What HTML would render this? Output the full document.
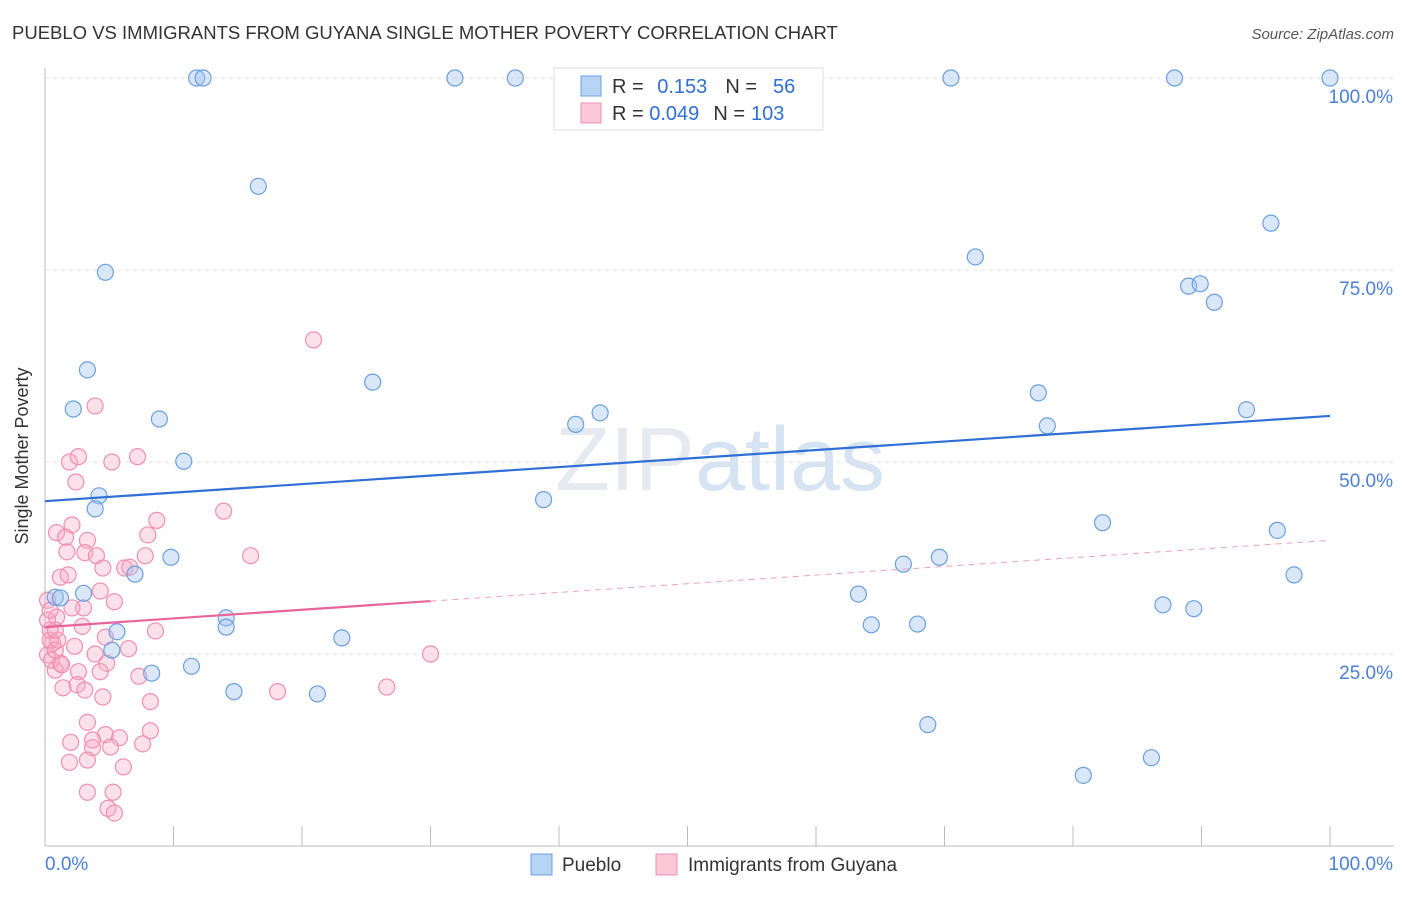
<!DOCTYPE html>
<html><head><meta charset="utf-8"><style>
body{margin:0;background:#fff;font-family:"Liberation Sans",sans-serif}
svg text{font-family:"Liberation Sans",sans-serif}
</style></head><body>
<svg id="c" width="1406" height="892">
<text x="12" y="39" font-size="18.5" fill="#333">PUEBLO VS IMMIGRANTS FROM GUYANA SINGLE MOTHER POVERTY CORRELATION CHART</text>
<text x="1394" y="39" font-size="15" fill="#555" text-anchor="end" font-style="italic">Source: ZipAtlas.com</text>
<text x="28" y="456" font-size="18" fill="#333" text-anchor="middle" transform="rotate(-90 28 456)">Single Mother Poverty</text>
<text x="720" y="490" font-size="90" fill="#e6eaf0" text-anchor="middle" font-family="Liberation Serif">ZIP<tspan fill="#d6e3f3" font-family="Liberation Sans">atlas</tspan></text>
<g id="grid"></g><g id="pts"></g><g id="lines"></g>
<g>
<rect x="554" y="68" width="269" height="62" fill="#fff" stroke="#ddd"/>
<rect x="581" y="76" width="20" height="20" fill="#b8d4f5" stroke="#6a9fe0"/>
<rect x="581" y="103" width="20" height="20" fill="#fbc8d8" stroke="#ee90b0"/>
<text x="612" y="93" font-size="20" fill="#333">R = <tspan fill="#2f6fd6" dx="8">0.153</tspan><tspan dx="18" fill="#333">N =</tspan><tspan dx="16" fill="#2f6fd6">56</tspan></text>
<text x="612" y="120" font-size="20" fill="#333">R = <tspan fill="#2f6fd6">0.049</tspan><tspan dx="14" fill="#333">N =</tspan><tspan dx="6" fill="#2f6fd6">103</tspan></text>
</g>
<g>
<rect x="531" y="854" width="21" height="21" fill="#b8d4f5" stroke="#6a9fe0"/>
<text x="562" y="871" font-size="19" fill="#333">Pueblo</text>
<rect x="656" y="854" width="21" height="21" fill="#fbc8d8" stroke="#ee90b0"/>
<text x="688" y="871" font-size="19" fill="#333">Immigrants from Guyana</text>
</g>
</svg>
<script>
const yTicks=[25,50,75,100];
const xTickLabels=["0.0%","100.0%"];
const blueX=[11.8,12.3,31.9,36.6,70.5,87.9,100,16.6,4.7,95.4,72.4,89.0,89.9,91.0,3.3,25.5,2.2,8.9,77.3,41.3,43.2,78.0,93.5,10.8,4.2,3.9,38.8,82.3,95.9,9.8,69.6,66.8,7.0,97.2,0.8,3.0,1.2,63.3,87.0,89.4,14.1,14.1,5.6,64.3,67.9,23.1,5.2,11.4,8.3,14.7,21.2,68.7,80.8,86.1];
const blueY=[100,100,100,100,100,100,100,85.9,74.7,81.1,76.7,72.9,73.2,70.8,62.0,60.4,56.9,55.6,59.0,54.9,56.4,54.7,56.8,50.1,45.6,43.9,45.1,42.1,41.1,37.6,37.6,36.7,35.4,35.3,32.4,32.9,32.3,32.8,31.4,30.9,29.7,28.5,27.9,28.8,28.9,27.1,25.5,23.4,22.5,20.1,19.8,15.8,9.2,11.5];
const pinkX=[3.9,1.9,2.6,5.2,7.2,2.4,13.9,8.7,8.0,0.9,2.1,1.6,3.3,1.7,3.1,4.0,4.5,7.8,16.0,6.2,6.6,1.2,1.8,4.3,5.4,3.0,2.1,0.9,2.9,8.6,4.7,0.4,0.6,2.3,3.9,6.5,4.8,4.3,2.6,1.2,0.8,1.4,2.5,3.1,4.5,7.3,8.2,18.1,3.3,8.2,4.7,5.8,3.7,2.0,7.6,3.7,5.1,1.9,3.3,6.1,3.3,5.3,4.9,5.4,20.9,30.0,26.6,0.2,0.4,0.2,0.5,0.8,0.2,1.0,1.3,0.4,0.8];
const pinkY=[57.3,50.0,50.7,50.0,50.7,47.4,43.6,42.4,40.5,40.8,41.8,40.2,39.8,38.3,38.2,37.8,36.2,37.8,37.8,36.2,36.3,35.0,35.3,33.2,31.8,31.0,31.0,29.8,28.6,28.0,27.2,28.1,26.4,26.0,25.0,25.7,23.8,22.7,22.7,23.8,22.9,20.6,21.0,20.3,19.4,22.1,18.8,20.1,16.1,15.0,14.5,14.1,13.8,13.5,13.3,12.8,12.9,10.9,11.2,10.3,7.0,7.0,4.9,4.3,65.9,25.0,20.7,29.4,26.8,24.9,24.2,25.5,32.0,26.8,23.6,30.7,28.1];
const blueTrend=[44.9,56.0];
const pinkTrend=[28.5,39.8];
const pinkSolidEnd=30;
const X0=45,X1=1330,Y0=846,YT=78;
const sx=v=>X0+(X1-X0)*v/100, sy=v=>Y0-(Y0-YT)*v/100;
const NS="http://www.w3.org/2000/svg";
function mk(t,a,p){const e=document.createElementNS(NS,t);for(const k in a)e.setAttribute(k,a[k]);p.appendChild(e);return e;}
const g=document.getElementById('grid');
let ax=mk('line',{x1:X0,y1:68,x2:X0,y2:846,stroke:'#bbb'},g);


let bx=mk('line',{x1:X0,y1:846,x2:1394,y2:846,stroke:'#bbb'},g);


yTicks.forEach(t=>{
 const l=mk('line',{x1:X0,y1:sy(t),x2:1394,y2:sy(t),stroke:'#e4e4e4','stroke-dasharray':'4,4'},g);
 
 
 const tx=mk('text',{x:1393,y:sy(t)+25,'font-size':19,fill:'#4a7fd6','text-anchor':'end'},g);tx.textContent=t.toFixed(1)+'%';
 
 
});
for(let i=1;i<=10;i++){const l=mk('line',{x1:sx(i*10),y1:826,x2:sx(i*10),y2:846,stroke:'#bbb'},g);
 
 }
let t0=mk('text',{x:45,y:870,'font-size':19,fill:'#4a7fd6'},g);t0.textContent=xTickLabels[0];


let t1=mk('text',{x:1393,y:870,'font-size':19,fill:'#4a7fd6','text-anchor':'end'},g);t1.textContent=xTickLabels[1];


const P=document.getElementById('pts');
pinkX.forEach((x,i)=>{const c=mk('circle',{cx:sx(x),cy:sy(pinkY[i]),r:8,fill:'rgba(248,170,195,0.35)',stroke:'#f08fb0','stroke-width':1.2},P);
 
 });
blueX.forEach((x,i)=>{const c=mk('circle',{cx:sx(x),cy:sy(blueY[i]),r:8,fill:'rgba(160,195,240,0.4)',stroke:'#6a9fe0','stroke-width':1.2},P);
 
 });
const L=document.getElementById('lines');
let bl=mk('line',{x1:sx(0),y1:sy(blueTrend[0]),x2:sx(100),y2:sy(blueTrend[1]),stroke:'#2f6fd6','stroke-width':2.2},L);


const pm=pinkTrend[0]+(pinkTrend[1]-pinkTrend[0])*pinkSolidEnd/100;
let pl=mk('line',{x1:sx(0),y1:sy(pinkTrend[0]),x2:sx(pinkSolidEnd),y2:sy(pm),stroke:'#e8649a','stroke-width':2.2},L);


let pd=mk('line',{x1:sx(pinkSolidEnd),y1:sy(pm),x2:sx(100),y2:sy(pinkTrend[1]),stroke:'#eea0bd','stroke-width':1,'stroke-dasharray':'6,5'},L);


</script>
</body></html>
